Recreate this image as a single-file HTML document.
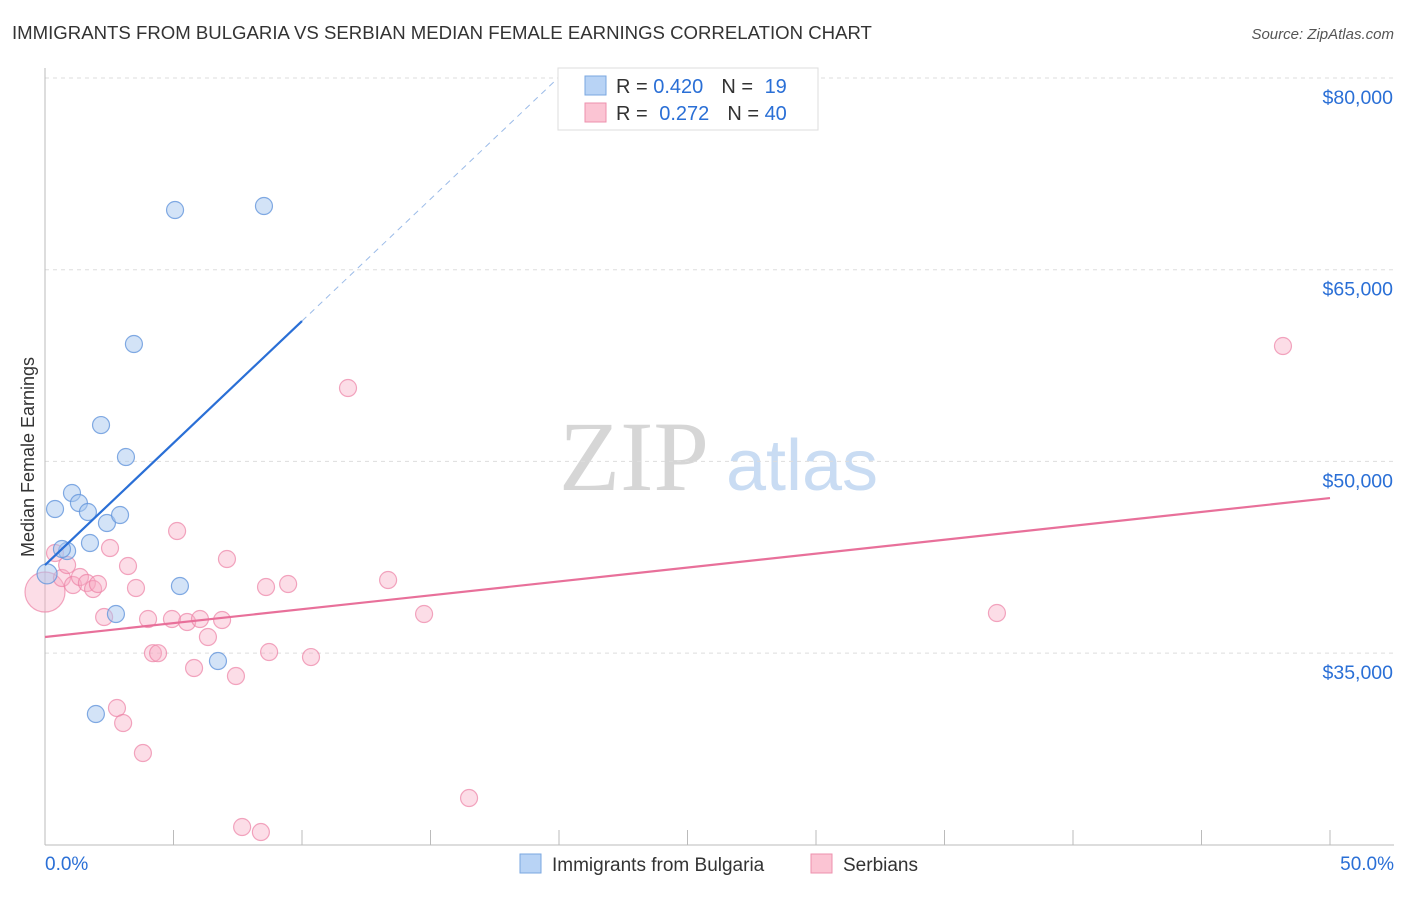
<!DOCTYPE html>
<html><head><meta charset="utf-8"><style>
body{margin:0;background:#fff;font-family:"Liberation Sans",sans-serif}
svg text{font-family:"Liberation Sans",sans-serif}
svg text.serif{font-family:"Liberation Serif",serif}
</style></head><body>
<svg id="c" width="1406" height="892" xmlns="http://www.w3.org/2000/svg">
<text x="12" y="39" font-size="18.6" fill="#333">IMMIGRANTS FROM BULGARIA VS SERBIAN MEDIAN FEMALE EARNINGS CORRELATION CHART</text>
<text x="1394" y="39" font-size="15" fill="#555" font-style="italic" text-anchor="end">Source: ZipAtlas.com</text>
<text class="serif" x="634" y="490" font-size="100" fill="#d6d6d6" text-anchor="middle">ZIP</text>
<text x="802" y="490" font-size="72" fill="#c9dcf3" text-anchor="middle">atlas</text>
<text transform="translate(34,457) rotate(-90)" font-size="18" fill="#333" text-anchor="middle">Median Female Earnings</text>
<g id="grid"></g><g id="axes"></g><g id="pts"></g><g id="lines"></g>
<g>
<rect x="558" y="68" width="260" height="62" fill="#fff" stroke="#ddd"/>
<rect x="585" y="76" width="21" height="19" fill="#b8d3f5" stroke="#7aa7e0"/>
<rect x="585" y="103" width="21" height="19" fill="#fbc4d3" stroke="#ee90ae"/>
<text x="616" y="93" font-size="20" fill="#333">R = <tspan fill="#2a6fd6">0.420</tspan><tspan dx="18">N = </tspan><tspan fill="#2a6fd6" dx="6">19</tspan></text>
<text x="616" y="120" font-size="20" fill="#333">R = <tspan fill="#2a6fd6" dx="6">0.272</tspan><tspan dx="18">N = </tspan><tspan fill="#2a6fd6">40</tspan></text>
</g>
<g>
<rect x="520" y="854" width="21" height="19" fill="#b8d3f5" stroke="#7aa7e0"/>
<text x="552" y="871" font-size="19" fill="#333">Immigrants from Bulgaria</text>
<rect x="811" y="854" width="21" height="19" fill="#fbc4d3" stroke="#ee90ae"/>
<text x="843" y="871" font-size="19" fill="#333">Serbians</text>
</g>
</svg>
<script>
const blueX=[0.39,1.05,1.32,1.67,0.86,0.66,1.75,2.18,2.41,2.92,3.15,3.46,5.06,8.52,5.25,2.76,6.73,1.98,0.08];
const blueY=[46274,47526,46744,46040,42988,43145,43614,52845,45179,45805,50343,59185,69671,69984,40249,38058,34380,30233,41200];
const pinkX=[0,0.39,0.66,0.86,1.09,1.36,1.63,1.87,2.06,2.30,2.53,2.80,3.04,3.23,3.54,3.81,4.01,4.20,4.40,4.94,5.14,5.53,5.80,6.03,6.34,6.89,7.08,7.43,7.67,8.40,8.60,8.72,9.46,10.35,11.79,13.35,14.75,16.50,37.04,48.17];
const pinkY=[39779,42831,40875,41892,40327,40953,40484,40014,40406,37822,43223,30703,29529,41814,40093,27181,37667,34994,34994,37667,44553,37431,33832,37667,36258,37589,42362,33206,21391,20999,40171,35085,40406,34690,55743,40719,38058,23660,38136,59029];
const yTicks=[80000,65000,50000,35000];
const xTickLabels=["0.0%","50.0%"];
const blueTrend=[41892,1909];
const pinkTrend=[36258,217.5];
const NS="http://www.w3.org/2000/svg";
const X=v=>45+v*25.7, Y=v=>78+(80000-v)*191.7/15000;
function mk(t,a,p){const e=document.createElementNS(NS,t);for(const k in a)e.setAttribute(k,a[k]);p.appendChild(e);return e;}
const grid=document.getElementById('grid'),axes=document.getElementById('axes'),pts=document.getElementById('pts'),lines=document.getElementById('lines');
yTicks.forEach(v=>{
 const l=mk('line',{x1:45,x2:1394,y1:Y(v),y2:Y(v),stroke:'#ddd','stroke-dasharray':'4,4'},grid);
 
 
 const t=mk('text',{x:1393,y:Y(v)+26,'font-size':19.5,fill:'#2a6fd6','text-anchor':'end'},axes);t.textContent='$'+v.toLocaleString('en-US');
 
 
});
mk('line',{x1:45,x2:45,y1:68,y2:845,stroke:'#bbb'},axes);
mk('line',{x1:45,x2:1394,y1:845,y2:845,stroke:'#bbb'},axes);
for(let i=0;i<=10;i++){const tk=mk('line',{x1:X(i*5),x2:X(i*5),y1:830,y2:845,stroke:'#bbb'},axes);
 
 }
const t0=mk('text',{x:45,y:870,'font-size':19,fill:'#2a6fd6'},axes);t0.textContent=xTickLabels[0];


const t1=mk('text',{x:1394,y:870,'font-size':19,fill:'#2a6fd6','text-anchor':'end'},axes);t1.textContent=xTickLabels[1];


pinkX.forEach((x,i)=>{const c=mk('circle',{cx:X(x),cy:Y(pinkY[i]),r:i==0?20:8.5,fill:'rgba(247,170,195,0.4)',stroke:'rgba(236,130,165,0.7)','stroke-width':1.2},pts);
 
 });
blueX.forEach((x,i)=>{const c=mk('circle',{cx:X(x),cy:Y(blueY[i]),r:i==18?10:8.5,fill:'rgba(168,200,240,0.5)',stroke:'rgba(100,150,220,0.8)','stroke-width':1.2},pts);
 
 });
const bl=mk('line',{x1:X(0),y1:Y(blueTrend[0]),x2:X(10),y2:Y(blueTrend[0]+10*blueTrend[1]),stroke:'#2a6fd6','stroke-width':2.2},lines);


const bd=mk('line',{x1:X(10),y1:Y(blueTrend[0]+10*blueTrend[1]),x2:X(19.9),y2:Y(blueTrend[0]+19.9*blueTrend[1]),stroke:'#9bbbe8','stroke-width':1,'stroke-dasharray':'6,5'},lines);


const pl=mk('line',{x1:X(0),y1:Y(pinkTrend[0]),x2:X(50),y2:Y(pinkTrend[0]+50*pinkTrend[1]),stroke:'#e8709a','stroke-width':2.2},lines);


</script>
</body></html>
